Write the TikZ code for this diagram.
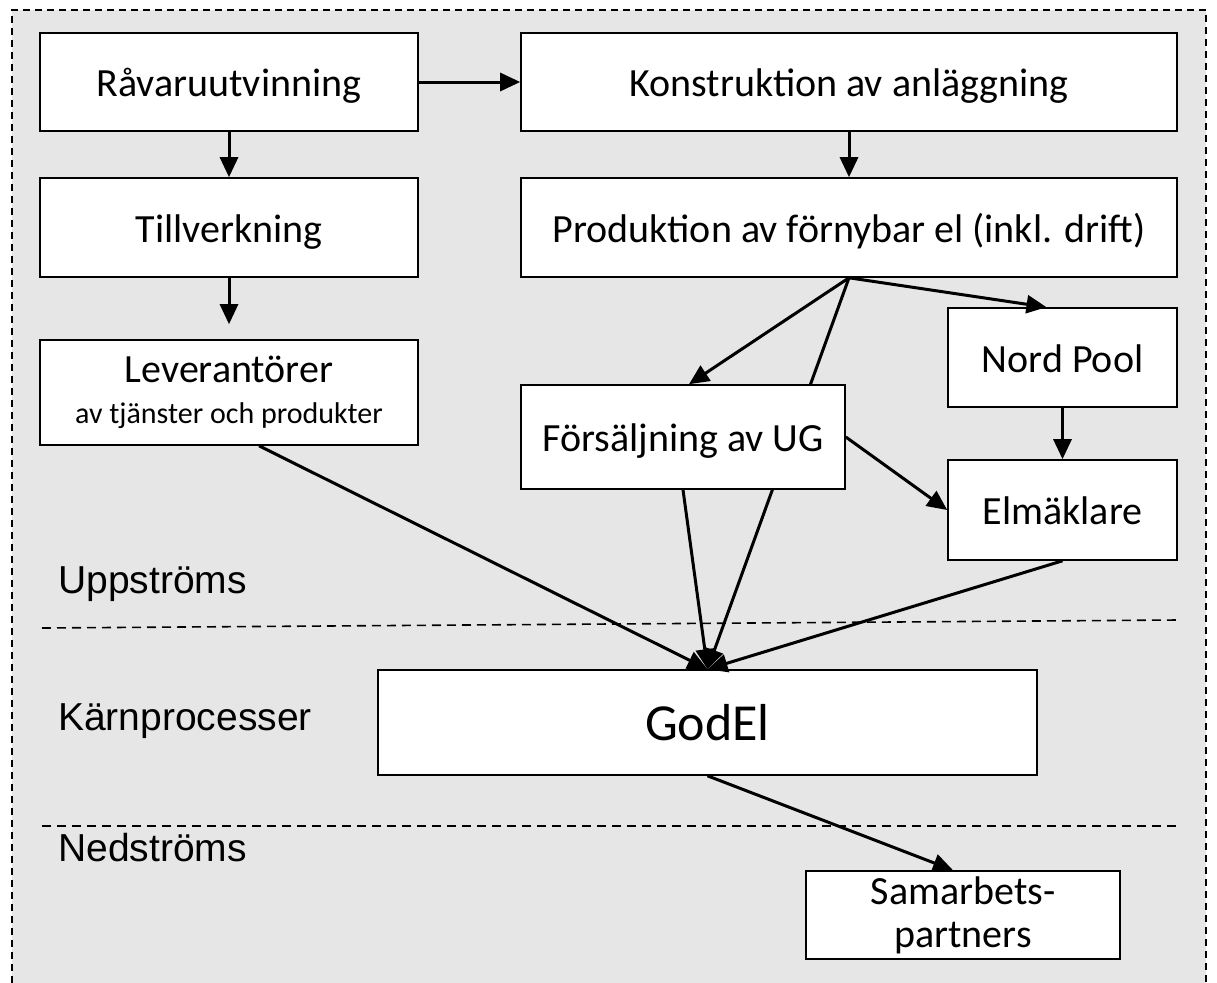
\documentclass[tikz,border=0pt]{standalone}
\usepackage{fontspec}
\setmainfont{Carlito}
\newfontfamily\zonefont{Liberation Sans}
\usetikzlibrary{arrows.meta,positioning}
\definecolor{panelgray}{HTML}{E6E6E6}
\pgfdeclarelayer{back}
\pgfdeclarelayer{mid}
\pgfsetlayers{back,mid,main}
\tikzset{
  box/.style={draw=black,line width=1.6pt,fill=white,align=center,inner sep=0pt,
    text height=38pt,text depth=9pt,font=\fontsize{40}{43}\selectfont},
  freebox/.style={box,text height={},text depth={}},
  ar/.style={-{Triangle[length=20pt,width=18pt]},line width=3pt},
  sep/.style={dash pattern=on 9pt off 6pt,line width=1.6pt},
  frame/.style={dash pattern=on 7pt off 5pt,line width=1.3pt},
  zone/.style={font=\zonefont\fontsize{39}{42}\selectfont,anchor=base west,inner sep=0pt}
}

\begin{document}
\begin{tikzpicture}[x=1pt,y=-1pt]
\useasboundingbox (0,0) rectangle (1217,982);
\begin{pgfonlayer}{back}
\fill[panelgray] (12,10) rectangle (1206,995);
\draw[frame] (12,995) -- (12,10) -- (1206,10) -- (1206,995);
\end{pgfonlayer}

% boxes
\node[box,minimum width=378pt,minimum height=98pt] (rav) at (229,82) {Råvaruutvinning};
\node[box,minimum width=656pt,minimum height=98pt] (kons) at (849,82) {Konstruktion av anläggning};
\node[box,minimum width=378pt,minimum height=99pt] (till) at (229,227.5) {Tillverkning};
\node[box,minimum width=656pt,minimum height=99pt] (prod) at (849,227.5) {Produktion av förnybar el (inkl. drift)};
\node[freebox,minimum width=378pt,minimum height=105pt] (lev) at (229,392.5) {Leverantörer\\[-2pt]{\fontsize{30}{32}\selectfont av tjänster och produkter}};
\node[box,minimum width=229pt,minimum height=99pt] (nord) at (1062.5,357.5) {Nord Pool};
\node[box,minimum width=324pt,minimum height=104pt] (fors) at (683,437) {Försäljning av UG};
\node[box,minimum width=229pt,minimum height=100pt] (elm) at (1062.5,510) {Elmäklare};
\node[freebox,minimum width=659pt,minimum height=105pt,font=\fontsize{52}{56}\selectfont] (godel) at (707.5,722.5) {GodEl};
\node[freebox,minimum width=314pt,minimum height=88pt] (samarb) at (963,915) {Samarbets-\\partners};

% zones
\node[zone] (upp) at (58,593) {Uppströms};
\node[zone] (karn) at (58,730) {Kärnprocesser};
\node[zone] (ned) at (58,861) {Nedströms};
\coordinate (s1a) at (42,628);
\coordinate (s1b) at (1178,620);
\coordinate (s2a) at (42,826);
\coordinate (s2b) at (1178,826);
\draw[sep] (s1a) -- (s1b);
\draw[sep] (s2a) -- (s2b);

% connectors
\begin{pgfonlayer}{mid}
\draw[ar] (prod.south) -- (godel.north);
\end{pgfonlayer}
\draw[ar] (rav.east) -- (kons.west);
\draw[ar] (rav.south) -- (till.north);
\draw[ar,shorten >=15pt] (till.south) -- (lev.north);
\draw[ar] (kons.south) -- (prod.north);
\draw[ar] (prod.south) -- ([xshift=6pt]fors.north);
\draw[ar] (prod.south) -- ([xshift=-16pt]nord.north);
\draw[ar] (nord.south) -- (elm.north);
\draw[ar] (fors.east) -- (elm.west);
\draw[ar] (fors.south) -- (godel.north);
\draw[ar] ([xshift=30pt]lev.south) -- (godel.north);
\draw[ar] (elm.south) -- (godel.north);
\draw[ar] (godel.south) -- ([xshift=-10pt]samarb.north);
\end{tikzpicture}
\end{document}
